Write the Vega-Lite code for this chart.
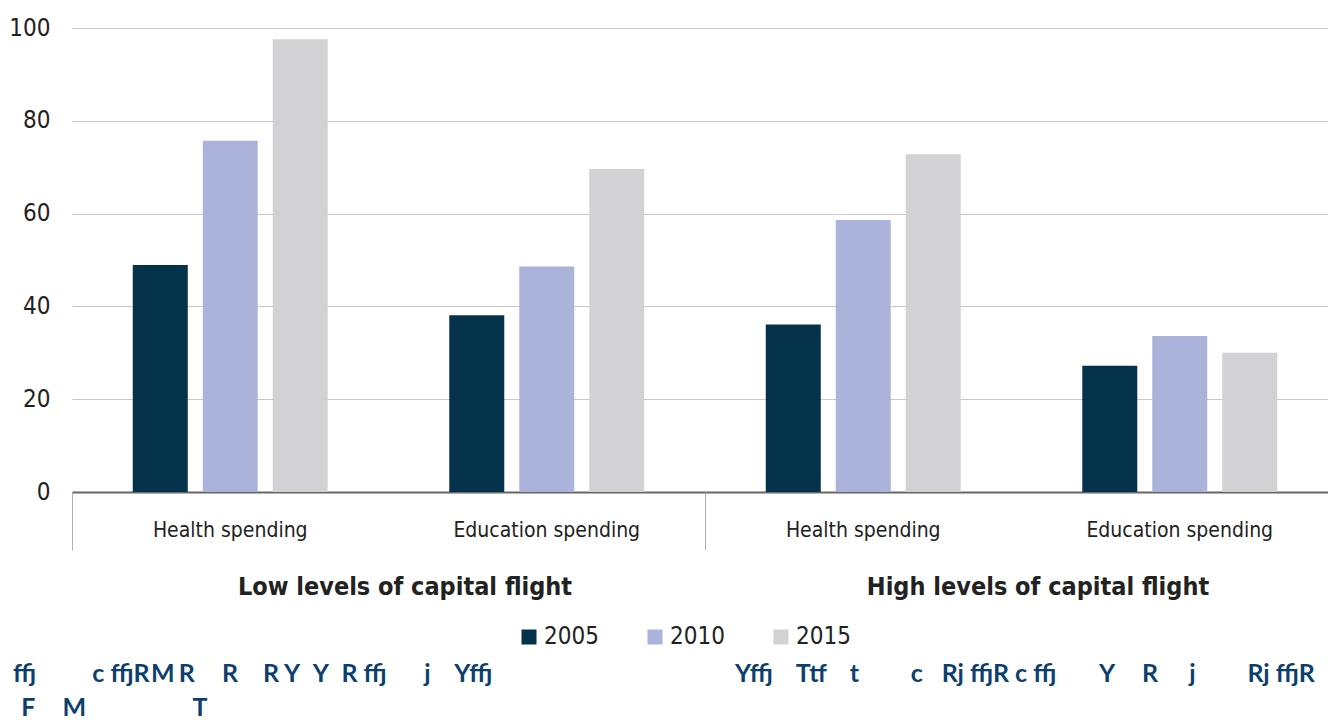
{
  "$schema": "https://vega.github.io/schema/vega-lite/v6.json",
  "width": 1256,
  "height": 464,
  "autosize": {"type": "none"},
  "padding": {"left": 72, "top": 28, "right": 0, "bottom": 228},
  "background": "white",
  "config": {
    "view": {"stroke": null},
    "font": "DejaVu Sans Condensed, sans-serif"
  },
  "title": {
    "text": [
      "ffj\u2003\u2003\u2002\u2005c ffjR\u200AM\u2006R\u2003\u2004R\u2003 R Y\u2002Y\u2002R ffj\u2003\u2003j\u2003 Yffj\u2003\u2003\u2003\u2003\u2003\u2003\u2003\u2003\u2003\u2003\u2003\u2002\u2005\u2002 Yffj\u2003\u2006Ttf\u2003\u2006t\u2003\u2003\u2004 c\u2002\u2005Rj ffjR c ffj\u2003\u2003 Y\u2002\u2004 R\u2003\u2005 j\u2003\u2003\u2004 Rj ffjR",
      "\u200B\u2004F\u2003\u2004M\u2003\u2003\u2003\u2003\u2002\u2002\u2005T"
    ],
    "orient": "bottom",
    "anchor": "start",
    "frame": "group",
    "dx": -59,
    "offset": 13,
    "font": "Lato",
    "fontSize": 25,
    "fontWeight": "bold",
    "color": "#0d3f6e",
    "lineHeight": 34
  },
  "data": {
    "values": [
      {"level": "Low levels of capital flight", "spending": "Health spending", "group": "Low: Health spending", "year": "2005", "value": 48.9},
      {"level": "Low levels of capital flight", "spending": "Health spending", "group": "Low: Health spending", "year": "2010", "value": 75.7},
      {"level": "Low levels of capital flight", "spending": "Health spending", "group": "Low: Health spending", "year": "2015", "value": 97.6},
      {"level": "Low levels of capital flight", "spending": "Education spending", "group": "Low: Education spending", "year": "2005", "value": 38.1},
      {"level": "Low levels of capital flight", "spending": "Education spending", "group": "Low: Education spending", "year": "2010", "value": 48.6},
      {"level": "Low levels of capital flight", "spending": "Education spending", "group": "Low: Education spending", "year": "2015", "value": 69.6},
      {"level": "High levels of capital flight", "spending": "Health spending", "group": "High: Health spending", "year": "2005", "value": 36.1},
      {"level": "High levels of capital flight", "spending": "Health spending", "group": "High: Health spending", "year": "2010", "value": 58.6},
      {"level": "High levels of capital flight", "spending": "Health spending", "group": "High: Health spending", "year": "2015", "value": 72.8},
      {"level": "High levels of capital flight", "spending": "Education spending", "group": "High: Education spending", "year": "2005", "value": 27.2},
      {"level": "High levels of capital flight", "spending": "Education spending", "group": "High: Education spending", "year": "2010", "value": 33.6},
      {"level": "High levels of capital flight", "spending": "Education spending", "group": "High: Education spending", "year": "2015", "value": 30.0}
    ]
  },
  "layer": [
    {
      "mark": {"type": "bar"},
      "encoding": {
        "x": {
          "field": "group",
          "type": "nominal",
          "sort": ["Low: Health spending", "Low: Education spending", "High: Health spending", "High: Education spending"],
          "scale": {"paddingInner": 0.384, "paddingOuter": 0.192, "range": [0, 1266]},
          "axis": {
            "orient": "bottom",
            "title": null,
            "labelAngle": 0,
            "labelExpr": "split(datum.label, ': ')[1]",
            "labelLimit": 0,
            "ticks": false,
            "domainColor": "#666666",
            "domainWidth": 2,
            "labelFontSize": 21,
            "labelColor": "#222222",
            "labelPadding": 27,
            "labelBaseline": "top"
          }
        },
        "xOffset": {
          "field": "year",
          "type": "nominal",
          "scale": {"paddingInner": 0.214, "paddingOuter": 0}
        },
        "y": {
          "field": "value",
          "type": "quantitative",
          "scale": {"domain": [0, 100], "nice": false},
          "axis": {
            "title": null,
            "values": [0, 20, 40, 60, 80, 100],
            "domain": false,
            "ticks": false,
            "labelPadding": 22,
            "labelFontSize": 24,
            "labelColor": "#222222",
            "gridColor": "#c8c8c8",
            "gridWidth": 1
          }
        },
        "color": {
          "field": "year",
          "type": "nominal",
          "scale": {"domain": ["2005", "2010", "2015"], "range": ["#04324a", "#abb3da", "#d2d2d4"]},
          "legend": {
            "title": null,
            "orient": "none",
            "direction": "horizontal",
            "legendX": 445,
            "legendY": 597,
            "symbolType": "square",
            "symbolSize": 225,
            "symbolStrokeWidth": 0,
            "labelFontSize": 24,
            "labelColor": "#222222",
            "labelOffset": 3,
            "columnPadding": 44
          }
        }
      }
    },
    {
      "mark": {"type": "rule", "opacity": 0},
      "encoding": {
        "x": {
          "field": "level",
          "type": "nominal",
          "sort": ["Low levels of capital flight", "High levels of capital flight"],
          "scale": {"paddingInner": 0, "paddingOuter": 0, "range": [0, 1266]},
          "axis": {
            "orient": "bottom",
            "title": null,
            "labelAngle": 0,
            "labelLimit": 0,
            "labelOffset": 16,
            "domain": false,
            "grid": false,
            "ticks": true,
            "tickBand": "extent",
            "tickSize": 58,
            "tickColor": "#b0b0b0",
            "tickWidth": 1,
            "labelFontSize": 25,
            "labelFontWeight": "bold",
            "labelColor": "#222222",
            "labelPadding": 24,
            "labelBaseline": "top"
          }
        }
      }
    }
  ],
  "resolve": {"scale": {"x": "independent"}}
}
